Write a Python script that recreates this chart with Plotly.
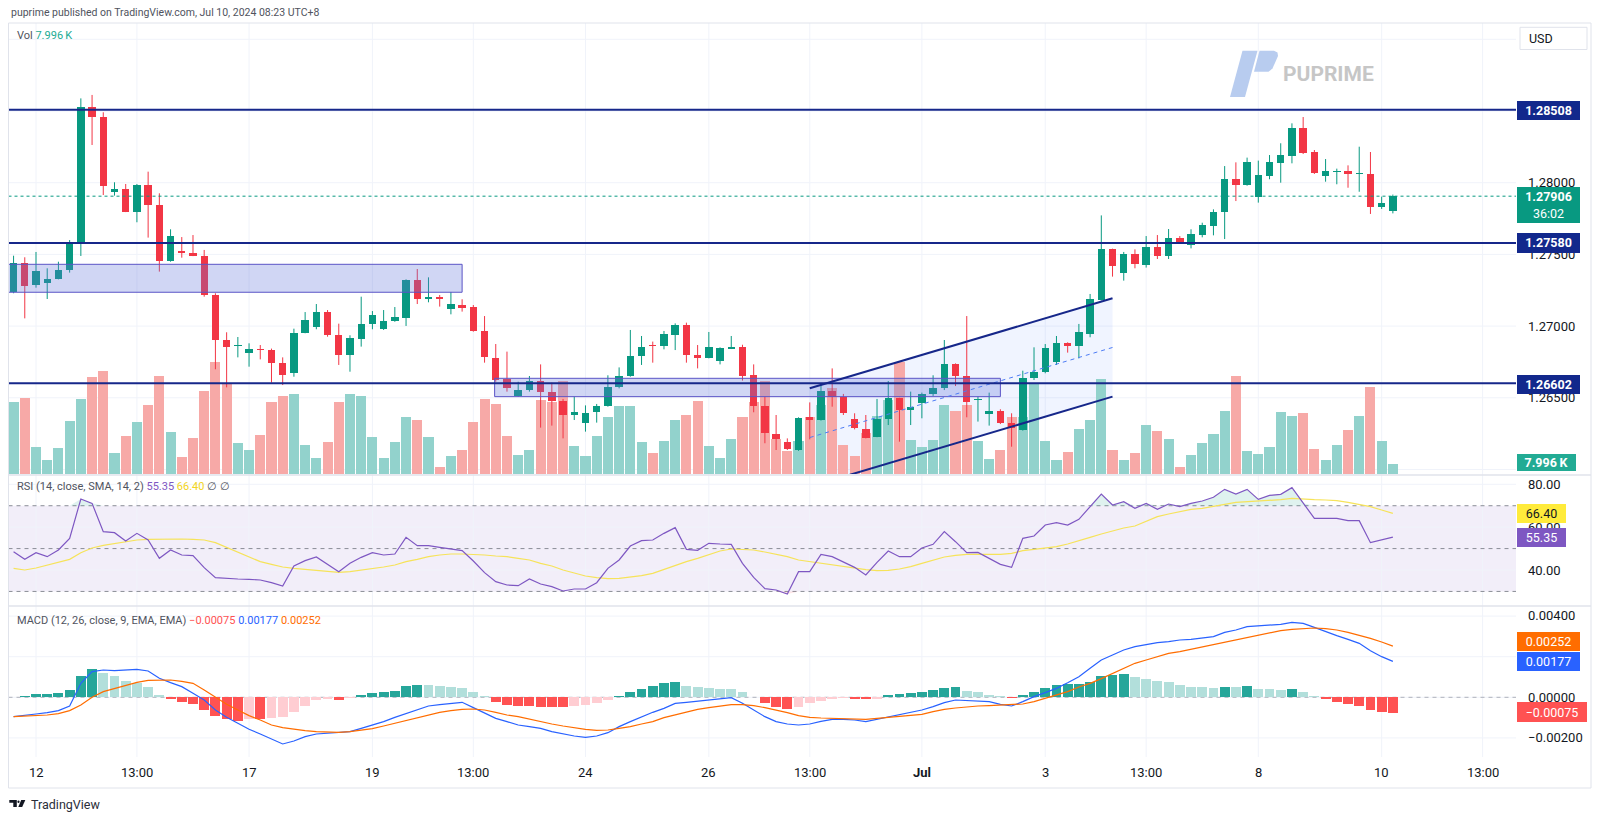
import plotly.graph_objects as go

W, H = 1600, 819

# ---------------- data (4h candles) ----------------
OPEN = [1.27236, 1.27442, 1.27289, 1.27301, 1.27331, 1.27391, 1.27577, 1.28530, 1.28456, 1.27933,
        1.27954, 1.27798, 1.27982, 1.27842, 1.27454, 1.27526, 1.27510, 1.27491, 1.27217, 1.26903,
        1.26864, 1.26810, 1.26843, 1.26833, 1.26740, 1.26671, 1.26954, 1.26996, 1.27096, 1.26938,
        1.26796, 1.26912, 1.27015, 1.26978, 1.27033, 1.27059, 1.27321, 1.27191, 1.27205, 1.27119,
        1.27147, 1.27131, 1.26968, 1.26780, 1.26631, 1.26513, 1.26554, 1.26620, 1.26538, 1.26480,
        1.26382, 1.26322, 1.26401, 1.26445, 1.26573, 1.26652, 1.26792, 1.26866, 1.26864, 1.26936,
        1.27010, 1.26796, 1.26780, 1.26759, 1.26843, 1.26852, 1.26657, 1.26445, 1.26250, 1.26194,
        1.26136, 1.26364, 1.26345, 1.26547, 1.26508, 1.26350, 1.26282, 1.26229, 1.26350, 1.26496,
        1.26415, 1.26461, 1.26524, 1.26566, 1.26736, 1.26652, 1.26482, 1.26389, 1.26408, 1.26322,
        1.26275, 1.26638, 1.26680, 1.26747, 1.26882, 1.26861, 1.26947, 1.27182, 1.27538, 1.27373,
        1.27503, 1.27428, 1.27552, 1.27489, 1.27614, 1.27568, 1.27635, 1.27700, 1.27793, 1.28024,
        1.27984, 1.27898, 1.28049, 1.28140, 1.28189, 1.28379, 1.28212, 1.28049, 1.28075, 1.28079,
        1.28058, 1.28061, 1.27828, 1.27805]
HIGH = [1.27491, 1.27480, 1.27517, 1.27403, 1.27449, 1.27600, 1.28588, 1.28612, 1.28491, 1.28003,
        1.27991, 1.27991, 1.28077, 1.27926, 1.27675, 1.27621, 1.27635, 1.27531, 1.27229, 1.26957,
        1.26924, 1.26880, 1.26868, 1.26843, 1.26782, 1.26982, 1.27098, 1.27154, 1.27112, 1.27017,
        1.26936, 1.27205, 1.27105, 1.27112, 1.27133, 1.27326, 1.27398, 1.27340, 1.27217, 1.27238,
        1.27187, 1.27147, 1.27070, 1.26875, 1.26822, 1.26612, 1.26652, 1.26733, 1.26606, 1.26492,
        1.26508, 1.26447, 1.26457, 1.26657, 1.26712, 1.26973, 1.26931, 1.26892, 1.26966, 1.27019,
        1.27024, 1.26868, 1.26959, 1.26852, 1.26931, 1.26870, 1.26733, 1.26508, 1.26380, 1.26217,
        1.26364, 1.26468, 1.26601, 1.26705, 1.26527, 1.26392, 1.26380, 1.26492, 1.26617, 1.26500,
        1.26543, 1.26536, 1.26657, 1.26903, 1.26740, 1.27070, 1.26508, 1.26536, 1.26420, 1.26392,
        1.26689, 1.26852, 1.26875, 1.26931, 1.26887, 1.27015, 1.27224, 1.27772, 1.27540, 1.27517,
        1.27535, 1.27628, 1.27635, 1.27677, 1.27628, 1.27675, 1.27721, 1.27814, 1.28116, 1.28142,
        1.28175, 1.28154, 1.28193, 1.28275, 1.28414, 1.28458, 1.28228, 1.28165, 1.28098, 1.28121,
        1.28251, 1.28214, 1.27903, 1.27917]
LOW = [1.27229, 1.27054, 1.27268, 1.27189, 1.27326, 1.27373, 1.27489, 1.28263, 1.27914, 1.27910,
       1.27795, 1.27724, 1.27617, 1.27380, 1.27449, 1.27477, 1.27488, 1.27205, 1.26699, 1.26573,
       1.26782, 1.26717, 1.26768, 1.26606, 1.26589, 1.26647, 1.26950, 1.26978, 1.26926, 1.26729,
       1.26682, 1.26857, 1.26978, 1.26973, 1.27030, 1.27001, 1.27154, 1.27166, 1.27136, 1.27082,
       1.27101, 1.26961, 1.26745, 1.26612, 1.26543, 1.26508, 1.26543, 1.26292, 1.26306, 1.26217,
       1.26345, 1.26264, 1.26327, 1.26438, 1.26566, 1.26647, 1.26729, 1.26745, 1.26838, 1.26833,
       1.26745, 1.26705, 1.26775, 1.26733, 1.26840, 1.26620, 1.26399, 1.26183, 1.26136, 1.26136,
       1.26130, 1.26210, 1.26341, 1.26438, 1.26380, 1.26280, 1.26217, 1.26225, 1.26310, 1.26194,
       1.26310, 1.26357, 1.26513, 1.26554, 1.26582, 1.26364, 1.26334, 1.26306, 1.26317, 1.26159,
       1.26271, 1.26624, 1.26671, 1.26729, 1.26815, 1.26775, 1.26922, 1.27178, 1.27345, 1.27317,
       1.27403, 1.27408, 1.27468, 1.27468, 1.27577, 1.27542, 1.27619, 1.27633, 1.27607, 1.27872,
       1.27979, 1.27861, 1.28024, 1.28000, 1.28135, 1.28200, 1.28061, 1.28007, 1.27989, 1.27965,
       1.27937, 1.27782, 1.27817, 1.27786]
CLOSE = [1.27442, 1.27282, 1.27387, 1.27331, 1.27394, 1.27577, 1.28530, 1.28456, 1.27977, 1.27954,
         1.27798, 1.27982, 1.27842, 1.27454, 1.27631, 1.27507, 1.27491, 1.27217, 1.26903, 1.26857,
         1.26868, 1.26838, 1.26833, 1.26740, 1.26661, 1.26954, 1.27043, 1.27096, 1.26936, 1.26796,
         1.26915, 1.27015, 1.27077, 1.27038, 1.27061, 1.27321, 1.27191, 1.27205, 1.27187, 1.27156,
         1.27129, 1.26968, 1.26782, 1.26626, 1.26566, 1.26554, 1.26617, 1.26543, 1.26480, 1.26382,
         1.26401, 1.26394, 1.26445, 1.26573, 1.26652, 1.26792, 1.26857, 1.26861, 1.26945, 1.27010,
         1.26796, 1.26780, 1.26857, 1.26847, 1.26852, 1.26654, 1.26445, 1.26255, 1.26213, 1.26141,
         1.26357, 1.26345, 1.26547, 1.26506, 1.26396, 1.26287, 1.26222, 1.26352, 1.26496, 1.26415,
         1.26436, 1.26524, 1.26571, 1.26736, 1.26652, 1.26473, 1.26494, 1.26408, 1.26322, 1.26287,
         1.26638, 1.26680, 1.26847, 1.26882, 1.26864, 1.26957, 1.27187, 1.27540, 1.27421, 1.27503,
         1.27435, 1.27552, 1.27489, 1.27614, 1.27582, 1.27642, 1.27705, 1.27796, 1.28026, 1.27984,
         1.28147, 1.28054, 1.28142, 1.28191, 1.28384, 1.28209, 1.28065, 1.28079, 1.28077, 1.28058,
         1.28063, 1.27833, 1.27861, 1.27906]
VOLUME_K = [57.3, 60.5, 21.3, 11.2, 20.8, 42.4, 60.0, 77.3, 82.1, 16.5,
            30.7, 41.3, 55.5, 78.7, 33.3, 13.3, 28.5, 66.7, 89.9, 72.0,
            24.5, 19.5, 31.5, 57.9, 62.1, 64.0, 22.9, 13.1, 25.3, 57.3,
            64.0, 62.7, 29.3, 12.5, 25.3, 45.9, 43.2, 29.9, 5.3, 14.1,
            19.5, 41.9, 60.0, 56.0, 30.7, 15.5, 19.5, 59.5, 57.3, 74.7,
            22.1, 14.7, 30.1, 45.3, 54.1, 54.1, 25.9, 16.5, 26.7, 43.2,
            47.5, 58.1, 22.1, 13.1, 27.7, 45.9, 57.3, 74.7, 28.0, 18.1,
            26.1, 45.3, 55.5, 68.8, 23.5, 14.7, 32.5, 46.7, 59.5, 89.9,
            27.5, 21.3, 27.5, 55.2, 50.1, 55.5, 26.7, 12.0, 19.2, 45.9,
            45.9, 72.0, 26.1, 11.5, 17.9, 36.0, 43.2, 76.0, 19.2, 11.2,
            16.5, 38.9, 34.7, 27.7, 5.3, 15.5, 24.5, 32.0, 50.1, 78.1,
            18.7, 16.0, 21.6, 49.3, 46.1, 48.5, 20.0, 10.9, 23.5, 34.9,
            46.1, 69.3, 26.1, 7.996]
RSI = [48.56, 44.98, 48.09, 46.22, 49.33, 54.78, 73.14, 71.11, 57.89, 57.42,
       53.53, 57.11, 54.00, 45.44, 49.33, 47.00, 46.69, 41.09, 36.42, 35.95,
       35.80, 35.64, 35.33, 34.09, 32.53, 41.87, 44.35, 46.07, 42.64, 39.22,
       43.11, 45.91, 48.09, 47.00, 47.47, 55.25, 51.36, 51.36, 50.58, 49.64,
       49.02, 44.20, 38.75, 34.55, 33.00, 32.69, 35.80, 33.46, 32.22, 30.20,
       31.13, 31.13, 34.09, 40.78, 44.67, 51.20, 53.69, 54.00, 57.11, 59.76,
       49.64, 49.18, 52.44, 52.13, 51.98, 43.11, 36.58, 31.29, 30.66, 28.80,
       39.22, 39.22, 47.31, 46.22, 43.89, 41.24, 37.66, 43.58, 48.87, 46.22,
       46.22, 50.27, 51.98, 57.89, 53.22, 48.09, 48.24, 45.44, 42.64, 41.24,
       54.78, 55.87, 61.00, 62.09, 61.00, 63.65, 69.56, 75.47, 70.34, 71.89,
       68.78, 71.11, 68.31, 70.80, 69.56, 71.11, 72.20, 73.92, 77.65, 75.47,
       77.65, 72.98, 74.85, 75.32, 78.43, 71.11, 64.11, 64.11, 64.11, 63.02,
       63.02, 52.76, 54.00, 55.35]
RSI_MA = [40.78, 40.00, 40.93, 42.18, 43.42, 44.98, 48.09, 50.27, 51.51, 52.44,
          53.22, 54.00, 54.31, 54.47, 54.47, 54.47, 54.31, 54.00, 52.76, 50.58,
          48.56, 46.22, 43.89, 42.64, 41.40, 40.78, 40.31, 39.84, 39.53, 38.91,
          39.22, 39.84, 40.62, 41.40, 42.33, 43.89, 44.98, 46.22, 47.00, 47.47,
          47.47, 47.31, 47.00, 46.53, 46.22, 45.44, 44.67, 43.11, 41.87, 40.00,
          38.44, 37.20, 36.42, 35.95, 36.11, 36.58, 37.35, 38.44, 40.31, 42.33,
          43.89, 45.44, 47.00, 48.87, 49.80, 49.64, 49.33, 48.40, 47.31, 46.22,
          44.67, 43.89, 43.11, 42.33, 41.55, 40.78, 40.15, 39.69, 39.84, 40.47,
          41.55, 43.11, 44.67, 46.07, 46.84, 47.31, 47.31, 47.31, 47.31, 47.78,
          49.02, 49.64, 50.11, 50.89, 52.13, 53.53, 55.25, 56.80, 58.36, 59.60,
          60.54, 62.56, 64.89, 66.14, 67.23, 68.31, 68.78, 69.56, 70.65, 71.58,
          71.89, 72.20, 72.36, 72.83, 73.45, 72.98, 72.83, 72.67, 72.36, 71.58,
          70.65, 69.56, 68.00, 66.40]
MACD = [-0.000953, -0.000871, -0.000822, -0.000756, -0.000658, -0.000428, 0.000689, 0.001263, 0.001345, 0.001313,
        0.001345, 0.001378, 0.001296, 0.000935, 0.000721, 0.000524, 0.000196, -0.000132, -0.000625, -0.000986,
        -0.001282, -0.001577, -0.001807, -0.002070, -0.002300, -0.002152, -0.001939, -0.001807, -0.001758, -0.001725,
        -0.001692, -0.001528, -0.001364, -0.001200, -0.000986, -0.000789, -0.000625, -0.000428, -0.000362, -0.000297,
        -0.000247, -0.000510, -0.000789, -0.001036, -0.001200, -0.001364, -0.001446, -0.001528, -0.001692, -0.001807,
        -0.001906, -0.001971, -0.001906, -0.001742, -0.001446, -0.001200, -0.000953, -0.000740, -0.000543, -0.000297,
        -0.000247, -0.000198, -0.000132, -0.000066, -0.000017, -0.000297, -0.000625, -0.000953, -0.001200, -0.001315,
        -0.001364, -0.001315, -0.001183, -0.001085, -0.001085, -0.001118, -0.001200, -0.001085, -0.000953, -0.000838,
        -0.000724, -0.000625, -0.000461, -0.000264, -0.000132, -0.000149, -0.000182, -0.000215, -0.000346, -0.000428,
        -0.000215, 0.000032, 0.000229, 0.000442, 0.000721, 0.001017, 0.001427, 0.001838, 0.002084, 0.002331,
        0.002495, 0.002610, 0.002692, 0.002741, 0.002823, 0.002856, 0.002905, 0.002987, 0.003201, 0.003316,
        0.003480, 0.003513, 0.003546, 0.003595, 0.003693, 0.003644, 0.003447, 0.003234, 0.003037, 0.002856,
        0.002659, 0.002298, 0.002002, 0.001770]
SIGNAL = [-0.000953, -0.000937, -0.000904, -0.000871, -0.000805, -0.000658, -0.000379, 0.000000, 0.000278, 0.000442,
          0.000590, 0.000738, 0.000836, 0.000853, 0.000853, 0.000787, 0.000689, 0.000360, 0.000000, -0.000346,
          -0.000625, -0.000904, -0.001118, -0.001364, -0.001495, -0.001577, -0.001643, -0.001692, -0.001725, -0.001725,
          -0.001692, -0.001627, -0.001544, -0.001413, -0.001282, -0.001150, -0.001003, -0.000871, -0.000740, -0.000658,
          -0.000592, -0.000576, -0.000625, -0.000740, -0.000871, -0.000953, -0.001085, -0.001200, -0.001315, -0.001413,
          -0.001512, -0.001577, -0.001627, -0.001610, -0.001528, -0.001446, -0.001315, -0.001200, -0.001003, -0.000871,
          -0.000740, -0.000592, -0.000510, -0.000428, -0.000362, -0.000362, -0.000412, -0.000510, -0.000625, -0.000756,
          -0.000904, -0.000986, -0.001019, -0.001036, -0.001052, -0.001085, -0.001085, -0.001036, -0.000986, -0.000937,
          -0.000888, -0.000838, -0.000707, -0.000592, -0.000526, -0.000461, -0.000428, -0.000412, -0.000395, -0.000379,
          -0.000329, -0.000215, -0.000050, 0.000114, 0.000278, 0.000508, 0.000689, 0.000918, 0.001181, 0.001427,
          0.001674, 0.001838, 0.002002, 0.002166, 0.002248, 0.002363, 0.002495, 0.002577, 0.002692, 0.002823,
          0.002955, 0.003069, 0.003152, 0.003283, 0.003349, 0.003398, 0.003414, 0.003381, 0.003316, 0.003201,
          0.003069, 0.002905, 0.002725, 0.002520]
HIST = [0.000032, 0.000064, 0.000146, 0.000150, 0.000196, 0.000360, 0.001050, 0.001411, 0.001214, 0.001050,
        0.000804, 0.000689, 0.000508, 0.000114, -0.000083, -0.000247, -0.000346, -0.000625, -0.000904, -0.001085,
        -0.001150, -0.001085, -0.001085, -0.001019, -0.000953, -0.000707, -0.000412, -0.000132, -0.000083, -0.000116,
        -0.000034, 0.000114, 0.000196, 0.000245, 0.000327, 0.000557, 0.000590, 0.000590, 0.000557, 0.000524,
        0.000442, 0.000278, 0.000064, -0.000215, -0.000379, -0.000430, -0.000445, -0.000460, -0.000470, -0.000480,
        -0.000428, -0.000379, -0.000297, -0.000132, 0.000048, 0.000245, 0.000393, 0.000557, 0.000689, 0.000754,
        0.000574, 0.000524, 0.000475, 0.000426, 0.000393, 0.000245, 0.000015, -0.000297, -0.000494, -0.000559,
        -0.000494, -0.000297, -0.000165, -0.000083, -0.000050, -0.000067, -0.000100, -0.000083, 0.000097, 0.000146,
        0.000196, 0.000278, 0.000360, 0.000475, 0.000524, 0.000327, 0.000245, 0.000114, 0.000064, -0.000050,
        0.000114, 0.000245, 0.000442, 0.000590, 0.000639, 0.000656, 0.000771, 0.001050, 0.001099, 0.001132,
        0.000984, 0.000902, 0.000804, 0.000738, 0.000606, 0.000524, 0.000492, 0.000475, 0.000524, 0.000510,
        0.000574, 0.000426, 0.000393, 0.000360, 0.000393, 0.000245, 0.000064, -0.000100, -0.000215, -0.000346,
        -0.000428, -0.000625, -0.000740, -0.000750]

TICK_IDX = [2, 11, 21, 32, 41, 51, 62, 71, 81, 92, 101, 111, 122, 131]
TICK_TEXT = ["12", "13:00", "17", "19", "13:00", "24", "26", "13:00", "<b>Jul</b>", "3", "13:00", "8", "10", "13:00"]

PRICE_GRID = [1.26, 1.265, 1.27, 1.275, 1.28, 1.285, 1.29]
PRICE_LABELS = [(1.28, "1.28000"), (1.275, "1.27500"), (1.27, "1.27000"), (1.265, "1.26500")]
LEVELS = [1.28508, 1.27580, 1.26602]
ZONE_A = (-0.5, 40.0, 1.27236, 1.27431)
ZONE_B = (42.9, 88.0, 1.26508, 1.26636)
CHAN_X = (71.0, 98.0)
CHAN_UP = (1.26566, 1.27194)
CHAN_LO = (1.25880, 1.26508)
LAST_PRICE = 1.27906
RSI_GRID = [40, 60, 80]
RSI_DASH = [70, 50, 30]
MACD_GRID = [-0.002, 0.0, 0.002, 0.004]

# ---------------- layout helpers ----------------
def PX(x):
    return x / W

def PY(y):
    return 1 - y / H

LEFT, RIGHT = 8.5, 1516.0
MAIN_T, MAIN_B = 23.0, 474.0
RSI_T, RSI_B = 475.0, 606.0
MACD_T, MACD_B = 606.0, 757.0
XR = [-0.452, 133.98]

N = len(CLOSE)
IDX = list(range(N))
GREEN, RED = "#089981", "#F23645"
up = [c >= o for o, c in zip(OPEN, CLOSE)]

fig = go.Figure()

fig.add_trace(go.Bar(x=IDX, y=VOLUME_K, width=0.9,
                     marker=dict(color=["#92D2CC" if u else "#F7A9A7" for u in up], line=dict(width=0)),
                     xaxis="x", yaxis="y", hoverinfo="skip"))

for flag, col in ((True, GREEN), (False, RED)):
    wx, wy = [], []
    for i in IDX:
        if up[i] == flag:
            wx += [i, i, None]
            wy += [LOW[i], HIGH[i], None]
    fig.add_trace(go.Scatter(x=wx, y=wy, mode="lines", line=dict(color=col, width=1),
                             xaxis="x", yaxis="y2", hoverinfo="skip"))

fig.add_trace(go.Bar(x=IDX, base=[min(o, c) for o, c in zip(OPEN, CLOSE)],
                     y=[max(abs(c - o), 0.00007) for o, c in zip(OPEN, CLOSE)], width=0.66,
                     marker=dict(color=[GREEN if u else RED for u in up], line=dict(width=0)),
                     xaxis="x", yaxis="y2", hoverinfo="skip"))

fig.add_trace(go.Scatter(x=IDX, y=[70] * N, mode="lines", line=dict(width=0), xaxis="x2", yaxis="y3", hoverinfo="skip"))
fig.add_trace(go.Scatter(x=IDX, y=[max(v, 70) for v in RSI], mode="lines", line=dict(width=0), fill="tonexty",
                         fillcolor="rgba(8,153,129,0.13)", xaxis="x2", yaxis="y3", hoverinfo="skip"))
fig.add_trace(go.Scatter(x=IDX, y=[30] * N, mode="lines", line=dict(width=0), xaxis="x2", yaxis="y3", hoverinfo="skip"))
fig.add_trace(go.Scatter(x=IDX, y=[min(v, 30) for v in RSI], mode="lines", line=dict(width=0), fill="tonexty",
                         fillcolor="rgba(242,54,69,0.13)", xaxis="x2", yaxis="y3", hoverinfo="skip"))
fig.add_trace(go.Scatter(x=IDX, y=RSI_MA, mode="lines", line=dict(color="#F6E35A", width=1.2),
                         xaxis="x2", yaxis="y3", hoverinfo="skip"))
fig.add_trace(go.Scatter(x=IDX, y=RSI, mode="lines", line=dict(color="#7E57C2", width=1.2),
                         xaxis="x2", yaxis="y3", hoverinfo="skip"))

hcol = []
for i, h in enumerate(HIST):
    prev = HIST[i - 1] if i > 0 else h
    if h >= 0:
        hcol.append("#26A69A" if h > prev else "#B2DFDB")
    else:
        hcol.append("#FFCDD2" if h > prev else "#FF5252")
fig.add_trace(go.Bar(x=IDX, y=HIST, width=0.88, marker=dict(color=hcol, line=dict(width=0)),
                     xaxis="x3", yaxis="y4", hoverinfo="skip"))
fig.add_trace(go.Scatter(x=IDX, y=MACD, mode="lines", line=dict(color="#2962FF", width=1.2),
                         xaxis="x3", yaxis="y4", hoverinfo="skip"))
fig.add_trace(go.Scatter(x=IDX, y=SIGNAL, mode="lines", line=dict(color="#FF6D00", width=1.2),
                         xaxis="x3", yaxis="y4", hoverinfo="skip"))

# ---------------- shapes ----------------
GRID = "#F0F3FA"
SEP = "#E0E3EB"
shapes = []
shapes.append(dict(type="rect", xref="paper", yref="y3", x0=PX(LEFT), x1=PX(RIGHT), y0=30, y1=70,
                   fillcolor="rgba(126,87,194,0.1)", line=dict(width=0), layer="below"))
for t in TICK_IDX:
    shapes.append(dict(type="line", xref="x", yref="paper", x0=t, x1=t, y0=PY(MACD_B), y1=PY(MAIN_T),
                       line=dict(color=GRID, width=1), layer="below"))
for p in PRICE_GRID:
    shapes.append(dict(type="line", xref="paper", yref="y2", x0=PX(LEFT), x1=PX(RIGHT), y0=p, y1=p,
                       line=dict(color=GRID, width=1), layer="below"))
for v in RSI_GRID:
    shapes.append(dict(type="line", xref="paper", yref="y3", x0=PX(LEFT), x1=PX(RIGHT), y0=v, y1=v,
                       line=dict(color=GRID, width=1), layer="below"))
for v in MACD_GRID:
    shapes.append(dict(type="line", xref="paper", yref="y4", x0=PX(LEFT), x1=PX(RIGHT), y0=v, y1=v,
                       line=dict(color=GRID, width=1), layer="below"))
for v in RSI_DASH:
    shapes.append(dict(type="line", xref="paper", yref="y3", x0=PX(LEFT), x1=PX(RIGHT), y0=v, y1=v,
                       line=dict(color="#8A8D96", width=1, dash="4px,4px"), layer="below"))
shapes.append(dict(type="line", xref="paper", yref="y4", x0=PX(LEFT), x1=PX(RIGHT), y0=0, y1=0,
                   line=dict(color="rgba(120,123,134,0.55)", width=1, dash="4px,4px"), layer="below"))

cx0, cx1 = CHAN_X
shapes.append(dict(type="path", xref="x", yref="y2",
                   path=f"M {cx0},{CHAN_LO[0]} L {cx0},{CHAN_UP[0]} L {cx1},{CHAN_UP[1]} L {cx1},{CHAN_LO[1]} Z",
                   fillcolor="rgba(41,98,255,0.07)", line=dict(width=0), layer="below"))

for (x0, x1, y0, y1) in (ZONE_A, ZONE_B):
    shapes.append(dict(type="rect", xref="x", yref="y2", x0=x0, x1=x1, y0=y0, y1=y1,
                       fillcolor="rgba(98,120,220,0.30)", line=dict(color="#5B54C6", width=1), layer="above"))

NAVY = "#16278A"
shapes.append(dict(type="line", xref="x", yref="y2", x0=cx0, x1=cx1, y0=CHAN_UP[0], y1=CHAN_UP[1],
                   line=dict(color=NAVY, width=2), layer="above"))
shapes.append(dict(type="line", xref="x", yref="y2", x0=cx0, x1=cx1, y0=CHAN_LO[0], y1=CHAN_LO[1],
                   line=dict(color=NAVY, width=2), layer="above"))
shapes.append(dict(type="line", xref="x", yref="y2", x0=cx0, x1=cx1,
                   y0=(CHAN_UP[0] + CHAN_LO[0]) / 2, y1=(CHAN_UP[1] + CHAN_LO[1]) / 2,
                   line=dict(color="#4D7CF5", width=1, dash="4px,4px"), layer="above"))

for lv in LEVELS:
    shapes.append(dict(type="line", xref="paper", yref="y2", x0=PX(LEFT), x1=PX(RIGHT), y0=lv, y1=lv,
                       line=dict(color=NAVY, width=2), layer="above"))
shapes.append(dict(type="line", xref="paper", yref="y2", x0=PX(LEFT), x1=PX(RIGHT), y0=LAST_PRICE, y1=LAST_PRICE,
                   line=dict(color=GREEN, width=1, dash="dot"), layer="above"))

shapes.append(dict(type="rect", xref="paper", yref="paper", x0=PX(8.5), x1=PX(1591), y0=PY(788), y1=PY(23),
                   line=dict(color=SEP, width=1), fillcolor="rgba(0,0,0,0)", layer="above"))
for yy in (RSI_T, MACD_T):
    shapes.append(dict(type="line", xref="paper", yref="paper", x0=PX(8.5), x1=PX(1591), y0=PY(yy), y1=PY(yy),
                       line=dict(color=SEP, width=1.5), layer="above"))

shapes.append(dict(type="rect", xref="paper", yref="paper", x0=PX(1520), x1=PX(1587), y0=PY(49.5), y1=PY(27.3),
                   line=dict(color=SEP, width=1), fillcolor="#FFFFFF", layer="above"))

def poly(pts):
    return "M " + " L ".join(f"{PX(x):.5f},{PY(y):.5f}" for x, y in pts) + " Z"

shapes.append(dict(type="path", xref="paper", yref="paper",
                   path=poly([(1230, 97), (1245, 97), (1257.5, 50.7), (1242.5, 50.7)]),
                   fillcolor="#B8CCEF", line=dict(width=0), layer="above"))
shapes.append(dict(type="path", xref="paper", yref="paper",
                   path=poly([(1259.5, 50.7), (1274, 50.7), (1277.5, 52.5), (1278, 56), (1272.5, 68.5),
                              (1268.5, 71.7), (1254, 71.7)]),
                   fillcolor="#B8CCEF", line=dict(width=0), layer="above"))
shapes.append(dict(type="path", xref="paper", yref="paper",
                   path=poly([(9.3, 800), (16.8, 800), (16.8, 807), (13.3, 807), (13.3, 802.8), (9.3, 802.8)]),
                   fillcolor="#131722", line=dict(width=0), layer="above"))
shapes.append(dict(type="circle", xref="paper", yref="paper", x0=PX(17.4), x1=PX(19.6), y0=PY(803), y1=PY(800.6),
                   fillcolor="#131722", line=dict(width=0), layer="above"))
shapes.append(dict(type="path", xref="paper", yref="paper",
                   path=poly([(21.2, 800), (25.3, 800), (22.2, 807), (18.3, 807)]),
                   fillcolor="#131722", line=dict(width=0), layer="above"))

# ---------------- annotations ----------------
FONT = "Roboto, Arial, sans-serif"
TXT = "#131722"
ann = []

def text(t, x, y, size=13, color=TXT, xanchor="left", xref="paper", **kw):
    d = dict(text=t, x=PX(x) if xref == "paper" else x, y=PY(y), xref=xref, yref="paper",
             showarrow=False, xanchor=xanchor, yanchor="middle", font=dict(size=size, color=color, family=FONT))
    d.update(kw)
    ann.append(d)

def box(t, top, bottom, width, bg, fg="#FFFFFF", size=12.5):
    ann.append(dict(text=t, x=PX(1516.7), y=PY((top + bottom) / 2), xref="paper", yref="paper",
                    xanchor="left", yanchor="middle", showarrow=False, width=width, height=bottom - top,
                    bgcolor=bg, borderpad=0, borderwidth=0, align="center", valign="middle",
                    font=dict(size=size, color=fg, family=FONT)))

def price_y(p):
    return 182.7 + (1.28 - p) * 14340.0

text("puprime published on TradingView.com, Jul 10, 2024 08:23 UTC+8", 9, 13, size=10.5, color="#50535E")
text("Vol <span style='color:#22AB94'>7.996\u2009K</span>", 15, 35.5, size=11, color="#50535E")
text("RSI (14, close, SMA, 14, 2) <span style='color:#7E57C2'>55.35</span> "
     "<span style='color:#F2D422'>66.40</span> \u2205 \u2205", 15, 486.5, size=11, color="#50535E")
text("MACD (12, 26, close, 9, EMA, EMA) <span style='color:#FF5252'>\u22120.00075</span> "
     "<span style='color:#2962FF'>0.00177</span> <span style='color:#FF6D00'>0.00252</span>",
     15, 620, size=11, color="#50535E")

for p, lab in PRICE_LABELS:
    text(lab, 1526, price_y(p), size=13)
text("80.00", 1526, 484.3, size=13)
text("60.00", 1526, 527.0, size=13)
text("40.00", 1526, 570.0, size=13)
text("0.00400", 1526, 615.3, size=13)
text("0.00000", 1526, 697.3, size=13)
text("\u22120.00200", 1526, 737.5, size=13)

box("<b>1.28508</b>", 101, 120, 63, "#12288C")
box("<b>1.27906</b><br>36:02", 186.7, 222.7, 63, GREEN)
box("<b>1.27580</b>", 233.5, 253, 63, "#12288C")
box("<b>1.26602</b>", 375, 393.5, 63, "#12288C")
box("<b>7.996\u2009K</b>", 454, 470.5, 59, "#22AB94")
box("66.40", 504, 523, 49, "#FFEB3B", fg=TXT)
box("55.35", 528, 547, 49, "#7E57C2")
box("0.00252", 632, 651, 63, "#FF6D00")
box("0.00177", 652, 671, 63, "#2962FF")
box("\u22120.00075", 702, 722, 70, "#FF5252")

for t, lab in zip(TICK_IDX, TICK_TEXT):
    text(lab, t, 772, size=13, xanchor="center", xref="x3")

text("<b>PUPRIME</b>", 1328, 73.5, size=21, color="#C6C6C6", xanchor="center")
text("USD", 1527, 38.5, size=12.5)
text("TradingView", 29, 804.3, size=12.5, color="#2A2E39")

ax_common = dict(visible=False, fixedrange=True)
fig.update_layout(
    width=W, height=H, margin=dict(l=0, r=0, t=0, b=0),
    paper_bgcolor="#FFFFFF", plot_bgcolor="#FFFFFF",
    showlegend=False, barmode="overlay", bargap=0, hovermode=False,
    font=dict(family=FONT, color=TXT),
    xaxis=dict(domain=[PX(LEFT), PX(RIGHT)], range=XR, anchor="y", **ax_common),
    yaxis=dict(domain=[PY(MAIN_B), PY(MAIN_T)], range=[0, 360.8], anchor="x", **ax_common),
    yaxis2=dict(domain=[PY(MAIN_B), PY(MAIN_T)], range=[1.259686, 1.291137], overlaying="y", anchor="x",
                side="right", **ax_common),
    xaxis2=dict(domain=[PX(LEFT), PX(RIGHT)], range=XR, anchor="y3", **ax_common),
    yaxis3=dict(domain=[PY(RSI_B), PY(RSI_T)], range=[23.20, 84.34], anchor="x2", **ax_common),
    xaxis3=dict(domain=[PX(LEFT), PX(RIGHT)], range=XR, anchor="y4", **ax_common),
    yaxis4=dict(domain=[PY(MACD_B), PY(MACD_T)], range=[-0.002941, 0.004498], anchor="x3", **ax_common),
    shapes=shapes, annotations=ann,
)

fig.write_html("out.html", config={"displayModeBar": False, "staticPlot": True},
               post_script="document.body.style.margin='0px';document.body.style.overflow='hidden';")
